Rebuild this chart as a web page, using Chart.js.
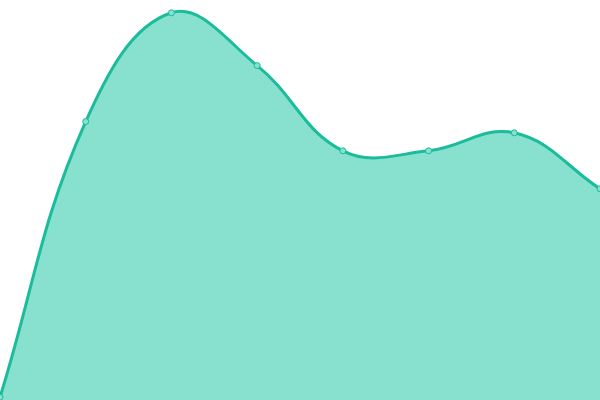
<!DOCTYPE html>
<html>
<head>
<meta charset="utf-8">
<script src="https://cdn.jsdelivr.net/npm/chart.js@4"></script>
<style>
  html, body { margin: 0; padding: 0; background: #fff; }
  #wrap { width: 600px; height: 400px; }
</style>
</head>
<body>
<div id="wrap"><canvas id="chart-1"></canvas></div>
<script>
const labels = ["1", "2", "3", "4", "5", "6", "7", "8"];
const values = [0.7, 69.6, 96.8, 83.6, 62.3, 62.3, 66.8, 52.8];
const yMin = 0;
const yMax = 100;

const ctx_1 = document.getElementById("chart-1");
new Chart(ctx_1, {
  type: "line",
  data: {
    labels: labels,
    datasets: [
      {
        data: values,
        fill: true,
        backgroundColor: "#88e0cf",
        borderColor: "#1abc9c",
        borderWidth: 3,
        tension: 0.4,
        pointRadius: 3,
        pointBackgroundColor: "#88e0cf",
        pointBorderColor: "#1abc9c",
        pointBorderWidth: 1,
      },
    ],
  },
  options: {
    responsive: true,
    maintainAspectRatio: false,
    animation: { duration: 0 },
    layout: { padding: 0, autoPadding: false },
    clip: false,
    plugins: {
      legend: { display: false },
      tooltip: { enabled: false },
    },
    scales: {
      x: { display: false },
      y: { display: false, min: yMin, max: yMax },
    },
  },
});
</script>
</body>
</html>
